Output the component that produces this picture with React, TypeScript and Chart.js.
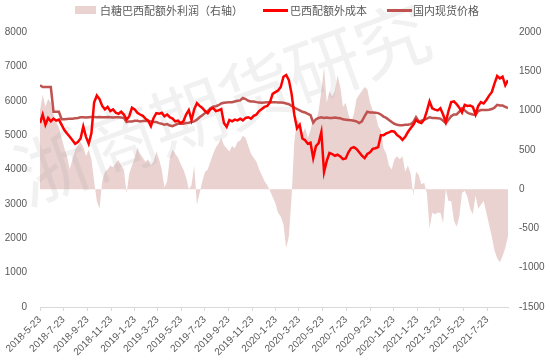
import React, { useEffect, useRef } from 'react';
import { Chart, registerables } from 'chart.js';

Chart.register(...registerables);

// Weekly observations starting 2018-5-23
const startDate = '2018-5-23';
const stepDays = 7;

const tickLabels = [
  '2018-5-23', '2018-7-23', '2018-9-23', '2018-11-23', '2019-1-23', '2019-3-23', '2019-5-23',
  '2019-7-23', '2019-9-23', '2019-11-23', '2020-1-23', '2020-3-23', '2020-5-23', '2020-7-23',
  '2020-9-23', '2020-11-23', '2021-1-23', '2021-3-23', '2021-5-23', '2021-7-23',
];

// 白糖巴西配额外利润（右轴）
const profit = [
  1000, 1200, 1050, 1150, 1100, 950, 850, 780, 650, 520,
  420, 250, 380, 500, 560, 600, 540, 420, 500, 380,
  100, -150, -250, 100, 220, 250, 300, 280, 330, 370,
  300, 250, -50, 200, 300, 400, 530, 450, 400, 350,
  380, 300, 350, 480, 380, 250, 20, 100, 400, 500,
  450, 400, 320, 250, 150, 0, 50, 300, -200, -50,
  100, 220, 250, 350, 450, 530, 580, 650, 560, 520,
  480, 550, 520, 600, 620, 680, 650, 550, 450, 400,
  350, 250, 180, 100, 50, -20, -100, -180, -300, -350,
  -450, -750, -600, -100, 600, 880, 850, 700, 780, 650,
  750, 900, 850, 1000, 1250, 1550, 1100, 1250, 1180, 1250,
  1450, 1300, 1050, 1100, 950, 850, 950, 1150, 1200, 1250,
  1300, 1270, 1100, 1000, 950, 800, 750, 520, 450, 300,
  250, 380, 420, 380, 420, 220, 300, 200, -80, 220,
  180, 60, 80, -50, -500, -300, -320, -300, -300, -430,
  0, -150, -150, -400, -480, -350, -50, -20, -100, -250,
  -320, -80, -250, -200, -150, -300, -450, -600, -780, -880,
  -930, -850, -750, -600,
];

// 巴西配额外成本
const cost = [
  5350, 5600, 5300, 5500, 5400, 5480, 5420, 5450, 5300, 5150,
  5050, 4950, 4850, 4750, 4800, 4900, 5250, 4950, 4750, 5050,
  5950, 6150, 6050, 5850, 5750, 5820, 5700, 5750, 5650, 5620,
  5680, 5600, 5450, 5550, 5800, 5750, 5650, 5600, 5560, 5480,
  5420, 5260, 5500, 5640, 5620, 5650, 5550, 5600, 5520, 5480,
  5400, 5420, 5350, 5400, 5600, 5730, 5440, 5750, 5930, 5850,
  5790, 5700, 5640, 5750, 5790, 5700, 5720, 5760, 5350, 5240,
  5440, 5400, 5450, 5430, 5480, 5430, 5500, 5520, 5480, 5560,
  5600, 5700, 5760, 5820, 5850, 5950, 6200, 6250, 6300, 6400,
  6700, 6750, 6600, 6200, 5600, 5200, 5300, 4900, 4850, 4750,
  4780, 4330, 4680, 4770, 5090, 3930, 4250, 4480, 4450, 4400,
  4430, 4380, 4300, 4320, 4500, 4620, 4650, 4600, 4500, 4400,
  4330, 4450, 4500, 4600, 4620, 4650, 5000, 5000, 5050, 5080,
  5120, 5100, 5000, 4950, 4860, 4950, 5090, 5200, 5300, 5440,
  5380, 5350, 5450, 5700, 5980, 5780, 5740, 5720, 5780, 5600,
  5380, 5700, 5960, 5980, 5900, 5800, 5660, 5880, 5850, 5860,
  5820, 5600, 5850, 5960, 5920, 6020, 6150, 6250, 6500, 6720,
  6650, 6700, 6450, 6600,
];

// 国内现货价格
const spot = [
  6450, 6400, 6400, 6400, 6400, 5680, 5680, 5680, 5460, 5460,
  5470, 5480, 5480, 5490, 5500, 5520, 5520, 5510, 5520, 5530,
  5530, 5520, 5530, 5520, 5520, 5530, 5520, 5510, 5520, 5520,
  5510, 5500, 5380, 5400, 5400, 5420, 5420, 5400, 5410, 5420,
  5410, 5400, 5380, 5380, 5350, 5330, 5300, 5320, 5280, 5260,
  5300, 5330, 5340, 5330, 5350, 5360, 5380, 5400, 5450, 5520,
  5580, 5640, 5700, 5780, 5830, 5840, 5870, 5920, 5940, 5950,
  5960, 5960, 5980, 6000, 6010, 6080, 6050, 6000, 5980, 5980,
  5960, 5950, 5940, 5950, 5960, 5960, 5960, 5960, 5950, 5950,
  5940, 5920, 5900, 5850, 5800, 5760, 5720, 5680, 5660, 5620,
  5580, 5360, 5460, 5500, 5520, 5500, 5510, 5500, 5500, 5510,
  5500, 5490, 5460, 5450, 5440, 5430, 5420, 5400, 5350, 5400,
  5550, 5680, 5660, 5660, 5650, 5640, 5600, 5540, 5500, 5440,
  5380, 5330, 5300, 5290, 5290, 5300, 5300, 5320, 5380, 5520,
  5400, 5420, 5450, 5480, 5520, 5500, 5500, 5490, 5480, 5420,
  5350, 5450, 5550, 5600, 5600, 5680, 5780, 5720, 5650, 5620,
  5600, 5590, 5700, 5730, 5730, 5730, 5740, 5760, 5800, 5880,
  5860, 5860, 5820, 5790,
];

const seriesNames = ['白糖巴西配额外利润（右轴）', '巴西配额外成本', '国内现货价格'];
const seriesColors = ['#EAD2D1', '#FF0000', '#BE5350'];
const watermarkText = '浙商期货研究';

function parseDay(s: string) {
  const [y, m, d] = s.split('-').map(Number);
  return Date.UTC(y, m - 1, d) / 86400000;
}

function daysFromStart(s: string) {
  return Math.round(parseDay(s) - parseDay(startDate));
}

const tickFont = { family: '"Liberation Sans", Arial, sans-serif', size: 10 };
const textColor = '#595959';

export default function App() {
  const ref = useRef<HTMLCanvasElement>(null);

  useEffect(() => {
    document.body.style.margin = '0';
    const toPts = (arr: number[]) => arr.map((v, i) => ({ x: i * stepDays, y: v }));
    const tickDays = tickLabels.map(daysFromStart);
    const maxDay = (cost.length - 1) * stepDays;

    const watermark = {
      id: 'watermark',
      beforeDatasetsDraw(chart: any) {
        const ctx = chart.ctx;
        ctx.save();
        ctx.font = '74px "Noto Sans CJK SC"';
        ctx.fillStyle = 'rgba(150,150,150,0.13)';
        ctx.textAlign = 'center';
        ctx.textBaseline = 'middle';
        const chars = Array.from(watermarkText);
        chars.forEach((ch, k) => {
          ctx.save();
          ctx.translate(52 + k * 68, 167 - k * 25.4);
          ctx.rotate((-20 * Math.PI) / 180);
          ctx.fillText(ch, 0, 0);
          ctx.restore();
        });
        ctx.restore();
      },
    };

    const chart = new Chart(ref.current!, {
      type: 'line',
      data: {
        datasets: [
          {
            label: seriesNames[0],
            data: toPts(profit),
            yAxisID: 'y1',
            fill: 'origin',
            backgroundColor: seriesColors[0],
            borderColor: 'rgba(0,0,0,0)',
            borderWidth: 0,
            pointRadius: 0,
            tension: 0,
          },
          {
            label: seriesNames[1],
            data: toPts(cost),
            yAxisID: 'y',
            fill: false,
            borderColor: seriesColors[1],
            backgroundColor: seriesColors[1],
            borderWidth: 2.5,
            pointRadius: 0,
            tension: 0,
          },
          {
            label: seriesNames[2],
            data: toPts(spot),
            yAxisID: 'y',
            fill: false,
            borderColor: seriesColors[2],
            backgroundColor: seriesColors[2],
            borderWidth: 2.5,
            pointRadius: 0,
            tension: 0,
          },
        ],
      },
      options: {
        responsive: true,
        maintainAspectRatio: false,
        animation: false,
        layout: { padding: { top: 32, left: 0, right: 0, bottom: 0 } },
        plugins: {
          legend: { display: false },
          tooltip: { enabled: false },
          filler: { drawTime: 'beforeDatasetsDraw' },
        } as any,
        scales: {
          x: {
            type: 'linear',
            min: 0,
            max: maxDay,
            afterBuildTicks: (s: any) => {
              s.ticks = tickDays.map((v) => ({ value: v }));
            },
            afterFit: (s: any) => {
              s.height = 53;
            },
            ticks: {
              autoSkip: false,
              minRotation: 45,
              maxRotation: 45,
              padding: 3,
              color: textColor,
              font: tickFont,
              callback: (_v: any, i: number) => tickLabels[i],
            },
            grid: { display: true, drawOnChartArea: false, tickLength: 4, color: '#D9D9D9' },
            border: { display: true, color: '#D9D9D9' },
          },
          y: {
            position: 'left',
            min: 0,
            max: 8000,
            afterFit: (s: any) => {
              s.width = 40;
            },
            ticks: {
              stepSize: 1000,
              padding: 13,
              color: textColor,
              font: tickFont,
              callback: (v: any) => String(v),
            },
            grid: { display: false, drawTicks: false },
            border: { display: false },
          },
          y1: {
            position: 'right',
            min: -1500,
            max: 2000,
            afterFit: (s: any) => {
              s.width = 42;
            },
            ticks: {
              stepSize: 500,
              padding: 11,
              color: textColor,
              font: tickFont,
              callback: (v: any) => String(v),
            },
            grid: { display: false, drawTicks: false },
            border: { display: false },
          },
        },
      } as any,
      plugins: [watermark],
    });
    return () => chart.destroy();
  }, []);

  const legendText: React.CSSProperties = {
    position: 'absolute',
    top: 3,
    height: 14,
    lineHeight: '14px',
    fontSize: 11,
    fontFamily: '"Noto Sans CJK SC", sans-serif',
    color: textColor,
    whiteSpace: 'nowrap',
  };

  return (
    <div style={{ position: 'relative', width: 550, height: 360, background: '#fff' }}>
      <canvas ref={ref} style={{ display: 'block' }} />
      <div style={{ position: 'absolute', left: 0, top: 0, width: 550, height: 24, pointerEvents: 'none' }}>
        <div style={{ position: 'absolute', left: 75, top: 6, width: 21, height: 8, background: seriesColors[0] }} />
        <span style={{ ...legendText, left: 100 }}>{seriesNames[0]}</span>
        <div style={{ position: 'absolute', left: 263, top: 9, width: 25, height: 3, background: seriesColors[1] }} />
        <span style={{ ...legendText, left: 290 }}>{seriesNames[1]}</span>
        <div style={{ position: 'absolute', left: 387, top: 9, width: 25, height: 3, background: seriesColors[2] }} />
        <span style={{ ...legendText, left: 413 }}>{seriesNames[2]}</span>
      </div>
    </div>
  );
}
